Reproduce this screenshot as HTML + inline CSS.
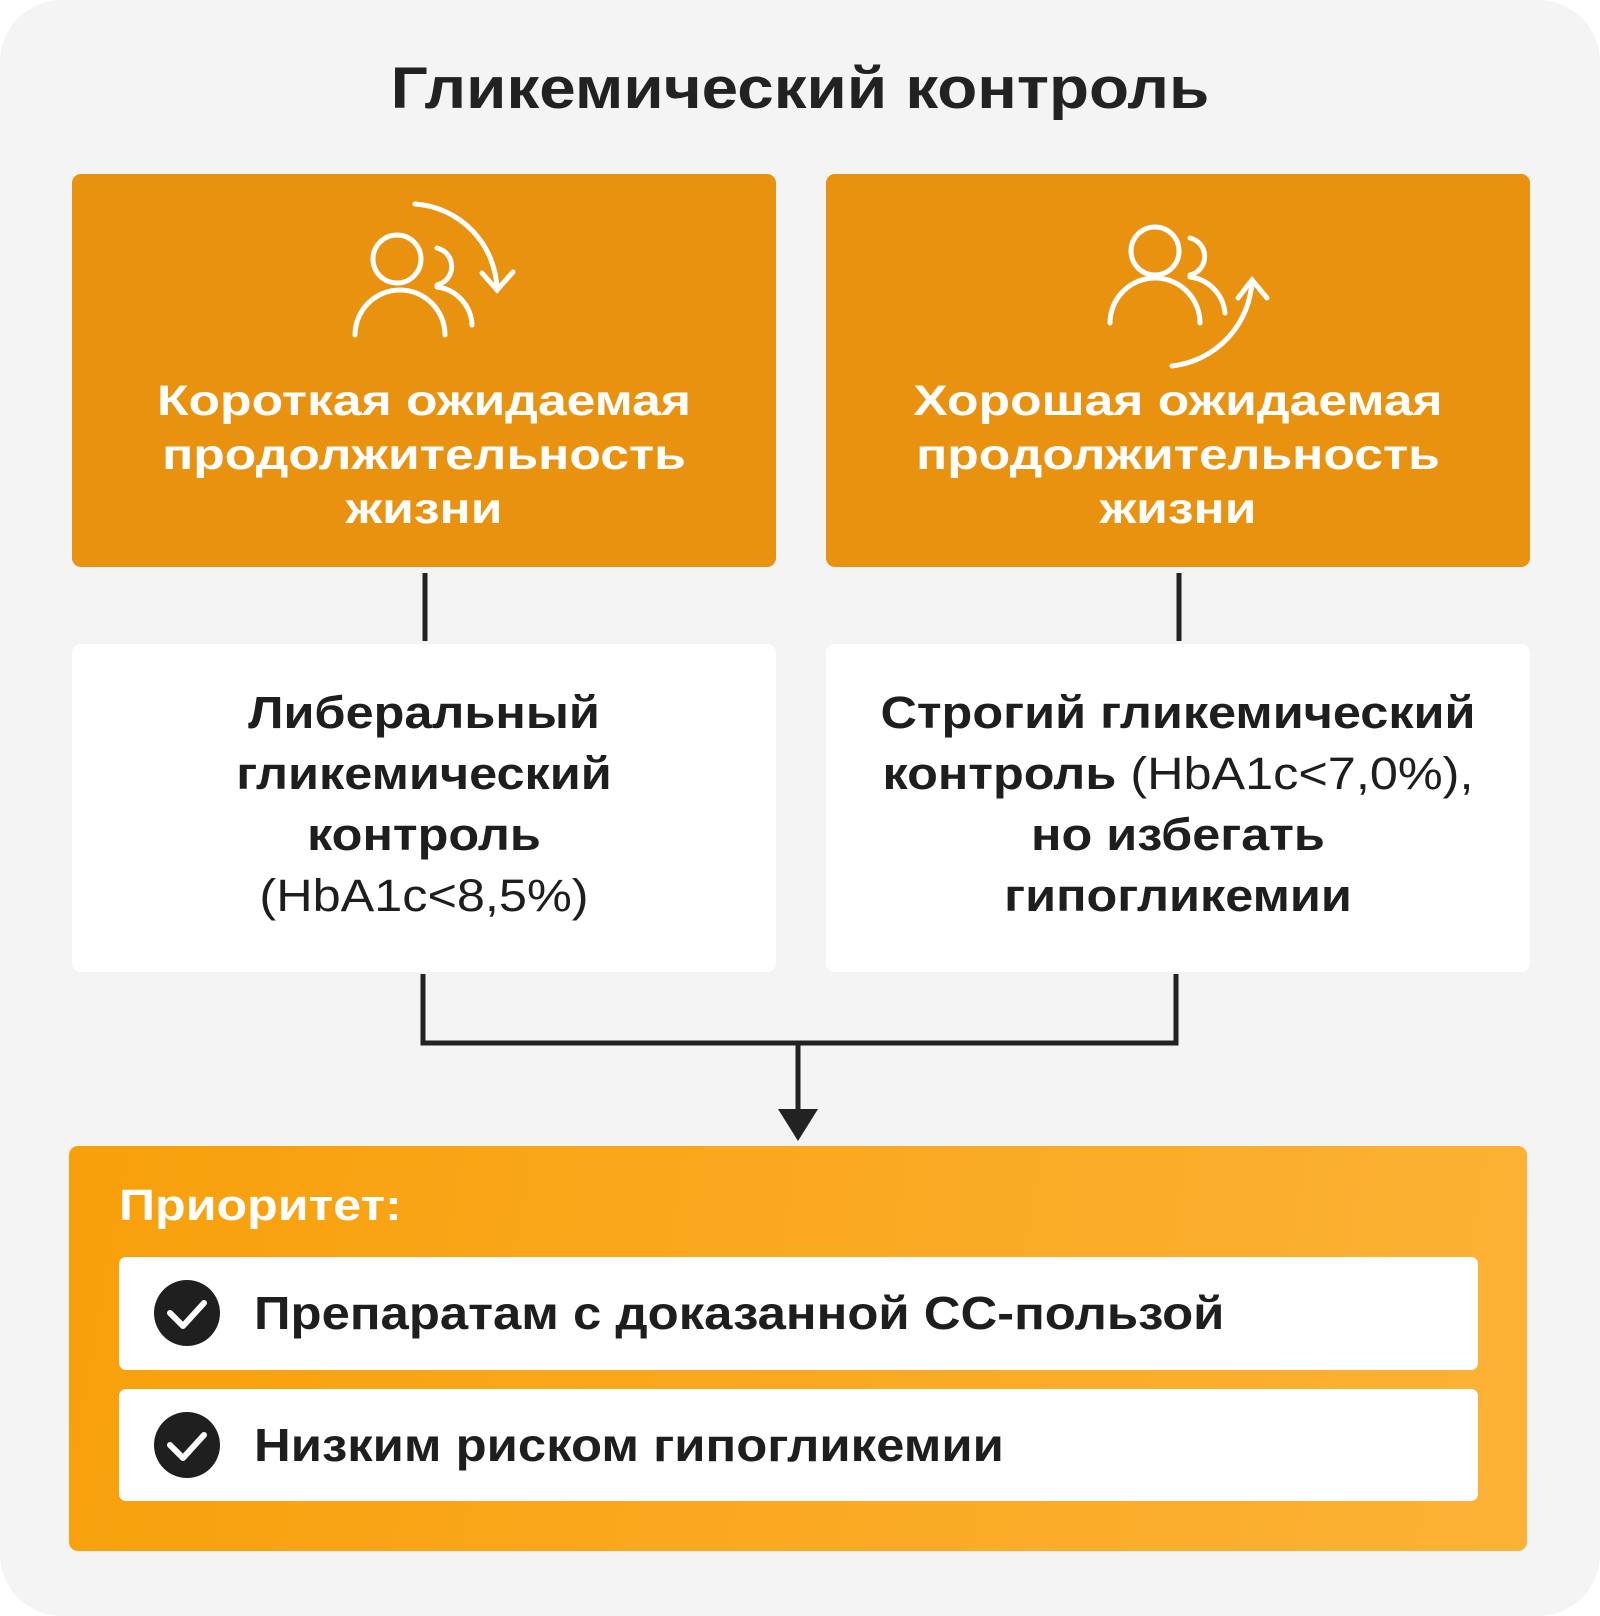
<!DOCTYPE html>
<html><head><meta charset="utf-8"><style>
*{margin:0;padding:0;box-sizing:border-box}
body{width:1600px;height:1616px;background:#fff;font-family:"Liberation Sans","DejaVu Sans",sans-serif;position:relative;overflow:hidden}
.bg{position:absolute;left:0;top:0;width:1600px;height:1616px;background:#f4f4f4;border-radius:62px}
.t{position:absolute;width:100%;text-align:center;font-weight:bold}
.box{position:absolute;border-radius:9px}
.or{background:#e8920f;color:#fff}
.wh{background:#fff;color:#1e1e1e}
.lines{position:absolute;left:0;width:100%;text-align:center;font-weight:bold}
</style></head><body>
<div class="bg"></div>
<div class="t" style="top:54px;font-size:58px;color:#222;line-height:70px;transform:scaleX(1.13)">Гликемический контроль</div>

<div class="box or" style="left:72px;top:174px;width:704px;height:393px">
<div class="lines" style="top:200px;font-size:43px;line-height:54px;transform:scaleX(1.2)">Короткая ожидаемая<br>продолжительность<br>жизни</div></div>
<div class="box or" style="left:826px;top:174px;width:704px;height:393px">
<div class="lines" style="top:200px;font-size:43px;line-height:54px;transform:scaleX(1.2)">Хорошая ожидаемая<br>продолжительность<br>жизни</div></div>

<div class="box wh" style="left:72px;top:644px;width:704px;height:328px">
<div class="lines" style="top:38px;font-size:45px;line-height:61px;transform:scaleX(1.12)">Либеральный<br>гликемический<br>контроль<br><span style="font-weight:normal">(HbA1c&lt;8,5%)</span></div></div>
<div class="box wh" style="left:826px;top:644px;width:704px;height:328px">
<div class="lines" style="top:38px;font-size:45px;line-height:61px;transform:scaleX(1.12)">Строгий гликемический<br>контроль <span style="font-weight:normal">(HbA1c&lt;7,0%),</span><br>но избегать<br>гипогликемии</div></div>

<svg width="1600" height="1616" style="position:absolute;left:0;top:0" fill="none" stroke-linecap="round">
<g stroke="#fff" stroke-width="5">
<circle cx="397" cy="259" r="24"/>
<path d="M355 335 A45 45 0 0 1 445 335"/>
<path d="M437 248 A19 19 0 0 1 437 285"/>
<path d="M437 287 A40 40 0 0 1 472 325"/>
<path d="M415 204 A88 88 0 0 1 497 290"/>
<path d="M482 273 L497 290 L513 272"/>
<circle cx="1155" cy="251" r="24"/>
<path d="M1110 323 A45 45 0 0 1 1200 323"/>
<path d="M1190 238 A19 19 0 0 1 1190 275"/>
<path d="M1190 277 A40 40 0 0 1 1225 313"/>
<path d="M1172 366 A90 90 0 0 0 1252 280"/>
<path d="M1238 298 L1252 280 L1267 298"/>
</g>
<g stroke="#222" stroke-width="5" stroke-linecap="butt">
<line x1="425" y1="573" x2="425" y2="641"/>
<line x1="1179" y1="573" x2="1179" y2="641"/>
<path d="M423 974 V1043 H1176 V974"/>
<line x1="798" y1="1043" x2="798" y2="1112"/>
</g>
<path d="M778 1109 L818 1109 L798 1141 Z" fill="#222"/>
</svg>

<div class="box" style="left:69px;top:1146px;width:1458px;height:405px;background:linear-gradient(100deg,#f8a00b,#fcb236)">
<div style="position:absolute;left:50px;top:34px;font-size:44px;font-weight:bold;color:#fff;line-height:52px;transform:scaleX(1.14);transform-origin:left">Приоритет:</div>
</div>
<div class="box wh" style="left:119px;top:1257px;width:1359px;height:113px;border-radius:7px"></div>
<div class="box wh" style="left:119px;top:1389px;width:1359px;height:112px;border-radius:7px"></div>
<svg width="1600" height="1616" style="position:absolute;left:0;top:0">
<circle cx="187" cy="1313" r="33" fill="#1f1f1f"/>
<path d="M170 1313 L183 1326 L204 1303" stroke="#fff" stroke-width="6" fill="none" stroke-linecap="round" stroke-linejoin="round"/>
<circle cx="187" cy="1445" r="33" fill="#1f1f1f"/>
<path d="M170 1445 L183 1458 L204 1435" stroke="#fff" stroke-width="6" fill="none" stroke-linecap="round" stroke-linejoin="round"/>
</svg>
<div style="position:absolute;left:254px;top:1286px;font-size:46px;font-weight:bold;color:#1e1e1e;line-height:54px;transform:scaleX(1.105);transform-origin:left;white-space:nowrap">Препаратам с доказанной СС-пользой</div>
<div style="position:absolute;left:254px;top:1418px;font-size:46px;font-weight:bold;color:#1e1e1e;line-height:54px;transform:scaleX(1.105);transform-origin:left;white-space:nowrap">Низким риском гипогликемии</div>
</body></html>
